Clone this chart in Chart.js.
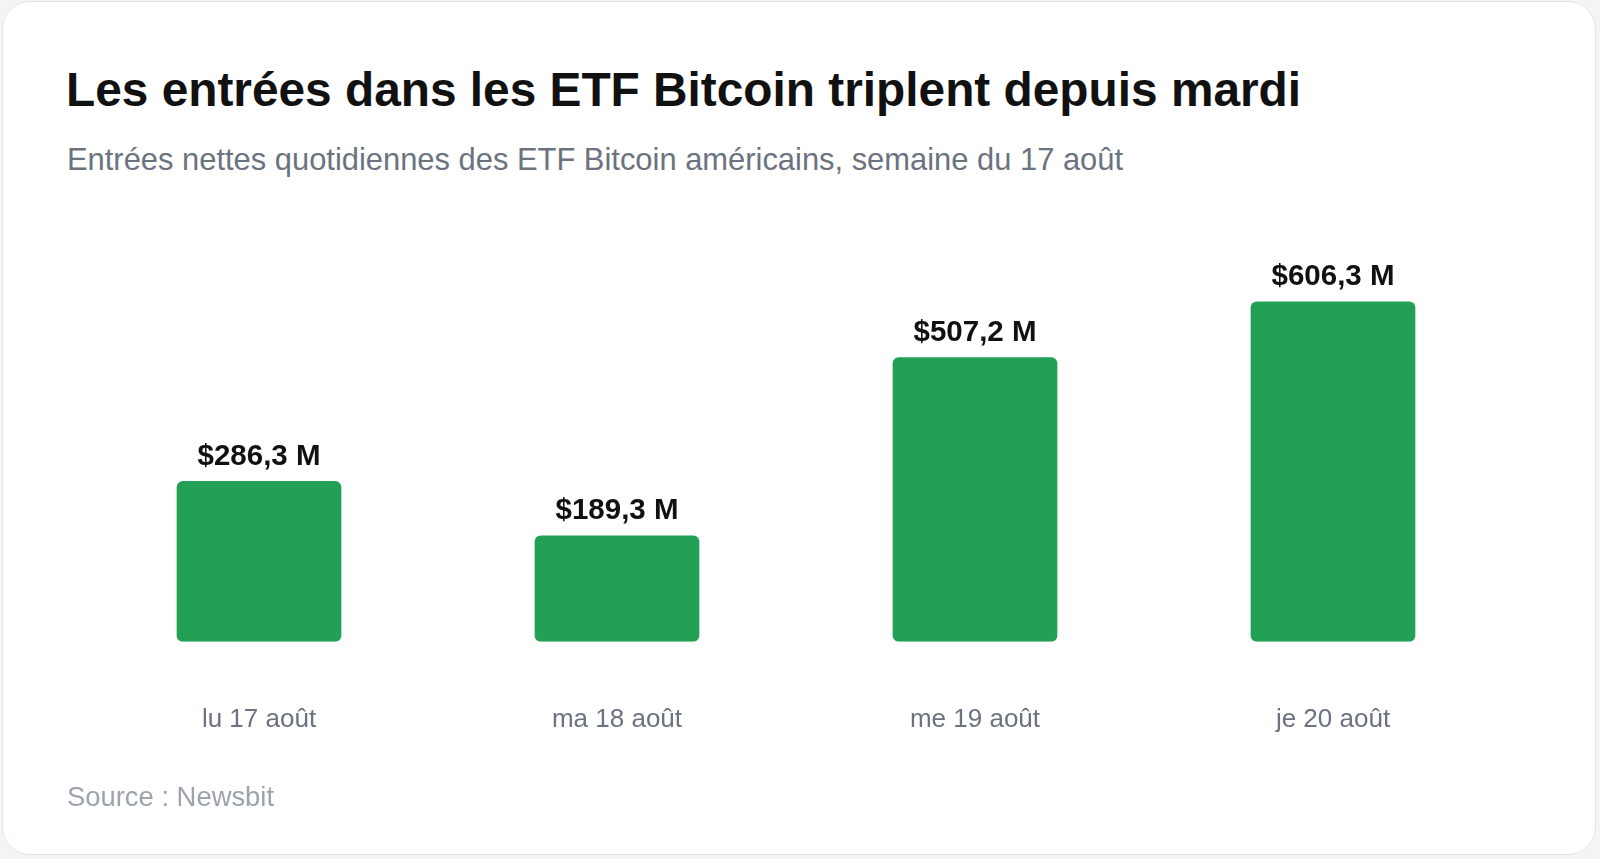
<!DOCTYPE html>
<html><head><meta charset="utf-8">
<script src="https://cdn.jsdelivr.net/npm/chart.js@4"></script>
<style>
html,body{margin:0;padding:0;background:#f3f4f6;font-family:"Liberation Sans",Arial,sans-serif;}
.card{position:absolute;left:2px;top:1px;width:1594px;height:854px;background:#fff;border:1px solid #e3e4e8;border-radius:28px;box-sizing:border-box;}
h1{position:absolute;left:63px;top:60px;margin:0;font-size:47.8px;font-weight:bold;color:#111;}
.sub{position:absolute;left:64px;top:140px;font-size:30.9px;color:#6b7280;}
.src{position:absolute;left:64px;top:779px;font-size:27.4px;color:#9ca3af;}
.wrap{position:absolute;left:77px;top:220px;width:1432px;height:567px;}
</style></head><body>
<div class="card">
<h1>Les entrées dans les ETF Bitcoin triplent depuis mardi</h1>
<div class="sub">Entrées nettes quotidiennes des ETF Bitcoin américains, semaine du 17 août</div>
<div class="wrap"><canvas id="c"></canvas></div>
<div class="src">Source : Newsbit</div>
</div>
<script>
const labels = ['lu 17 août', 'ma 18 août', 'me 19 août', 'je 20 août'];
const values = [286.3, 189.3, 507.2, 606.3];
const valueLabels = ['$286,3 M', '$189,3 M', '$507,2 M', '$606,3 M'];

// value labels above each bar
const topLabels = {
    id: 'topLabels',
    afterDatasetsDraw(chart) {
        const ctx = chart.ctx;
        ctx.save();
        ctx.font = 'bold 29.5px "Liberation Sans", Arial, sans-serif';
        ctx.fillStyle = '#111';
        ctx.textAlign = 'center';
        ctx.textBaseline = 'bottom';
        chart.getDatasetMeta(0).data.forEach((bar, i) => {
            ctx.fillText(valueLabels[i], bar.x, bar.y - 10);
        });
        ctx.restore();
    }
};

new Chart(document.getElementById('c'), {
    type: 'bar',
    data: {
        labels: labels,
        datasets: [{
            data: values,
            backgroundColor: '#22a055',
            borderRadius: 6,
            borderSkipped: false,
            categoryPercentage: 1,
            barPercentage: 0.46
        }]
    },
    options: {
        responsive: true,
        maintainAspectRatio: false,
        animation: false,
        layout: { padding: 0 },
        plugins: { legend: { display: false }, tooltip: { enabled: false } },
        scales: {
            x: {
                grid: { display: false },
                border: { display: false },
                ticks: { color: '#6b7280', font: { size: 26, family: '"Liberation Sans", Arial, sans-serif' }, padding: 54 }
            },
            y: { display: false, min: 0, max: 748 }
        }
    },
    plugins: [topLabels]
});
</script>
</body></html>
